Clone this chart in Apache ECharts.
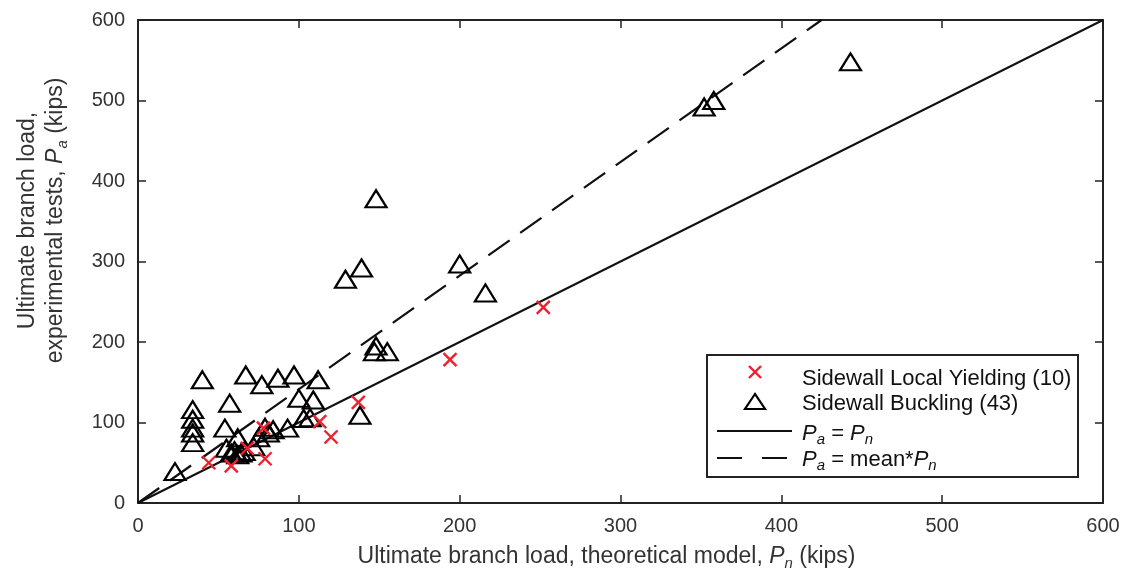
<!DOCTYPE html>
<html style="height: 100%">
   <head>
       <meta charset="utf-8">
   </head>
   <body style="height: 100%; margin: 0; background: #fff">
       <div id="container" style="height: 579px; width: 1128px;"></div>
       <script type="text/javascript" src="https://cdn.jsdelivr.net/npm/echarts@6/dist/echarts.min.js"></script>
       <script type="text/javascript">
        // Sidewall local yielding: [Pn, Pa] in kips
        var yieldingPoints = [
            [44, 50], [58, 46], [79, 55], [78, 93], [113, 101],
            [120, 82], [137, 125], [194, 178], [252, 243], [68, 68]
        ];
        // Sidewall buckling: [Pn, Pa] in kips
        var bucklingPoints = [
            [443, 548], [352, 492], [358, 500], [148, 378], [139, 292],
            [129, 278], [200, 297], [216, 261], [148, 195], [147, 188],
            [155, 188], [138, 109], [40, 153], [67, 159], [77, 147],
            [87, 155], [97, 159], [112, 153], [34, 116], [34, 104],
            [34, 93], [34, 87], [34, 75], [57, 124], [100, 130],
            [109, 128], [54, 93], [23, 39], [62, 81], [79, 94],
            [84, 91], [93, 93], [103, 105], [107, 106], [72, 70],
            [75, 81], [55, 68], [81, 87], [60, 65], [62, 60],
            [64, 62], [66, 64], [58, 62]
        ];
        // reference lines
        var equalLine = [[0, 0], [600, 600]];
        var meanLine = [[0, 0], [425, 600]];

        var axisMin = 0, axisMax = 600, axisStep = 100;
        var frameColor = '#222';
        var labelFont = 'Liberation Sans';
        var titleSize = 23;
        var legendSize = 22;

        var dom = document.getElementById("container");
        var myChart = echarts.init(dom);

        function frameAxis(pos, showLabel) {
            return {
                type: 'value',
                position: pos,
                min: axisMin, max: axisMax, interval: axisStep,
                axisLine: { show: true, onZero: false, lineStyle: { color: frameColor, width: 2 } },
                axisTick: { show: true, inside: true, length: 8, lineStyle: { color: frameColor, width: 1.5 } },
                axisLabel: { show: showLabel, color: '#333', fontSize: 20, fontFamily: labelFont, margin: 13 },
                splitLine: { show: false }
            };
        }

        var xMain = frameAxis('bottom', true);
        xMain.name = 'Ultimate branch load, theoretical model, {i|P}{s|n} (kips)';
        xMain.nameLocation = 'middle';
        xMain.nameGap = 40;
        xMain.nameTextStyle = {
            color: '#333', fontSize: titleSize, fontFamily: labelFont, padding: [0, 28, 0, 0],
            rich: {
                i: { fontStyle: 'italic', fontSize: titleSize, fontFamily: labelFont, color: '#333', lineHeight: 28 },
                s: { fontStyle: 'italic', fontSize: 15, fontFamily: labelFont, color: '#333', verticalAlign: 'bottom', lineHeight: 14 }
            }
        };

        var yMain = frameAxis('left', true);
        yMain.name = 'Ultimate branch load,\nexperimental tests, {i|P}{s|a} (kips)';
        yMain.nameLocation = 'middle';
        yMain.nameGap = 68;
        yMain.nameTextStyle = {
            color: '#333', fontSize: titleSize, fontFamily: labelFont, lineHeight: 28, padding: [0, 0, 0, 82],
            rich: {
                i: { fontStyle: 'italic', fontSize: titleSize, fontFamily: labelFont, color: '#333', lineHeight: 28 },
                s: { fontStyle: 'italic', fontSize: 15, fontFamily: labelFont, color: '#333', verticalAlign: 'bottom', lineHeight: 15 }
            }
        };

        var richLegend = {
            i: { fontStyle: 'italic', fontSize: legendSize, fontFamily: labelFont, fill: '#111', lineHeight: 26 },
            s: { fontStyle: 'italic', fontSize: 15, fontFamily: labelFont, fill: '#111', verticalAlign: 'bottom', lineHeight: 13 },
            r: { fontSize: legendSize, fontFamily: labelFont, fill: '#111', lineHeight: 26 }
        };

        var option = {
            animation: false,
            backgroundColor: '#fff',
            grid: { left: 138, right: 25, top: 20, bottom: 76 },
            xAxis: [xMain, frameAxis('top', false)],
            yAxis: [yMain, frameAxis('right', false)],
            series: [
                {
                    name: 'Pa = Pn',
                    type: 'line',
                    data: equalLine,
                    symbol: 'none',
                    lineStyle: { color: '#111', width: 2 },
                    z: 3
                },
                {
                    name: 'Pa = mean*Pn',
                    type: 'line',
                    data: meanLine,
                    symbol: 'none',
                    lineStyle: { color: '#111', width: 2.2, type: [26, 13] },
                    z: 3
                },
                {
                    name: 'Sidewall Buckling (43)',
                    type: 'scatter',
                    data: bucklingPoints,
                    symbol: 'triangle',
                    symbolSize: [21, 17],
                    itemStyle: { color: 'rgba(255,255,255,0)', borderColor: '#000', borderWidth: 2.2, opacity: 1 },
                    z: 4
                },
                {
                    name: 'Sidewall Local Yielding (10)',
                    type: 'scatter',
                    data: yieldingPoints,
                    symbol: 'path://M0,0L10,10M10,0L0,10',
                    symbolSize: 13,
                    itemStyle: { color: 'rgba(0,0,0,0)', borderColor: '#f0202f', borderWidth: 2.4, opacity: 1 },
                    z: 5
                }
            ],
            graphic: [
                { type: 'rect', shape: { x: 707, y: 355, width: 371, height: 122 },
                  style: { fill: '#fff', stroke: frameColor, lineWidth: 2 }, z: 100 },
                { type: 'line', shape: { x1: 749, y1: 366, x2: 761, y2: 378 },
                  style: { stroke: '#f0202f', lineWidth: 2.4 }, z: 101 },
                { type: 'line', shape: { x1: 761, y1: 366, x2: 749, y2: 378 },
                  style: { stroke: '#f0202f', lineWidth: 2.4 }, z: 101 },
                { type: 'polygon', shape: { points: [[755, 394], [745, 409], [765, 409]] },
                  style: { fill: 'none', stroke: '#000', lineWidth: 2.2 }, z: 101 },
                { type: 'line', shape: { x1: 717, y1: 431, x2: 792, y2: 431 },
                  style: { stroke: '#111', lineWidth: 2 }, z: 101 },
                { type: 'line', shape: { x1: 717, y1: 458, x2: 792, y2: 458 },
                  style: { stroke: '#111', lineWidth: 2, lineDash: [25, 20] }, z: 101 },
                { type: 'text', x: 802, y: 379, z: 101,
                  style: { text: 'Sidewall Local Yielding (10)', fontSize: legendSize, fontFamily: labelFont, fill: '#111', verticalAlign: 'middle' } },
                { type: 'text', x: 802, y: 404, z: 101,
                  style: { text: 'Sidewall Buckling (43)', fontSize: legendSize, fontFamily: labelFont, fill: '#111', verticalAlign: 'middle' } },
                { type: 'text', x: 802, y: 434, z: 101,
                  style: { text: '{i|P}{s|a}{r| = }{i|P}{s|n}', rich: richLegend, verticalAlign: 'middle' } },
                { type: 'text', x: 802, y: 460, z: 101,
                  style: { text: '{i|P}{s|a}{r| = mean*}{i|P}{s|n}', rich: richLegend, verticalAlign: 'middle' } }
            ]
        };

        myChart.setOption(option, true);
       </script>
   </body>
</html>
